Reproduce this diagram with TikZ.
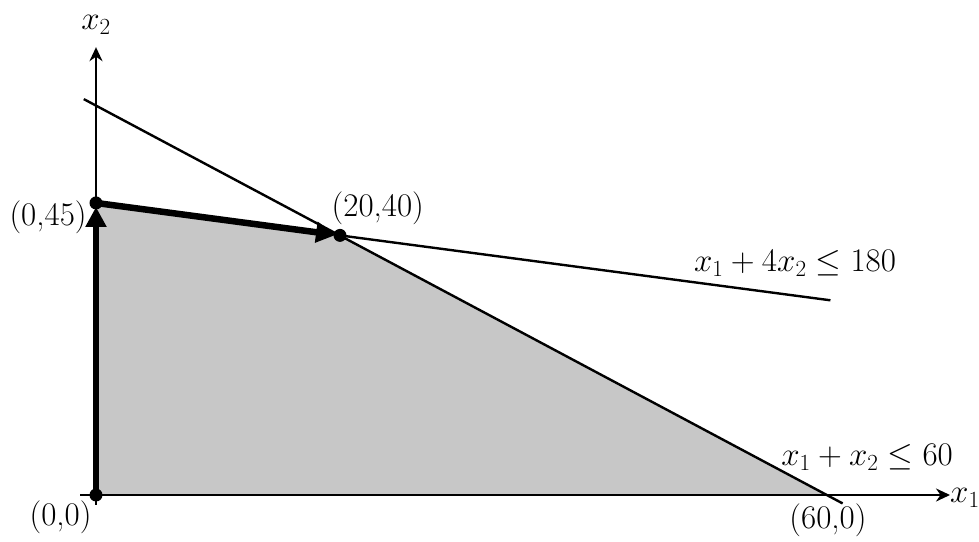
\RequirePackage{fix-cm}
\documentclass[tikz,border=0pt]{standalone}
\usetikzlibrary{arrows.meta}
\definecolor{regiongray}{RGB}{199,199,199}
\begin{document}
\begin{tikzpicture}[x=12.2pt,y=6.49pt,
  lbl/.style={font=\fontsize{33}{38}\selectfont, inner sep=0pt},
  axis/.style={line width=2.4pt, -{Stealth[length=14pt,width=13pt]}},
  cline/.style={line width=2.4pt},
  path/.style={line width=6.5pt, -{Triangle[length=20pt,width=20pt]}, shorten >=4pt},
  vdot/.style={circle, fill=black, minimum size=13pt, inner sep=0pt}]
\useasboundingbox (-7.869,-7.088) rectangle (72.377,76.271);
% feasible region
\fill[regiongray] (0,0) -- (0,45) -- (20,40) -- (60,0) -- cycle;
% coordinates
\coordinate (xs) at (-1.3,0);
\coordinate (xe) at (70.0,0);
\coordinate (ys) at (0,-1.5);
\coordinate (ye) at (0,69.0);
\coordinate (c1s) at (-1,61);
\coordinate (c1e) at (61.2,-1.3);
\coordinate (c2e) at (60.2,30);
% axes
\draw[axis] (xs) -- (xe);
\draw[axis] (ys) -- (ye);
\node[lbl, anchor=west] (x1) at ([xshift=0pt,yshift=-3pt]xe) {$x_1$};
\node[lbl] (x2) at (0,72.4) {$x_2$};
% vertices
\node[vdot] (O) at (0,0) {};
\node[vdot] (A) at (0,45) {};
\node[vdot] (B) at (20,40) {};
\coordinate (C) at (60,0);
% constraint lines
\draw[cline] (c1s) -- (c1e);
\draw[cline] (B.center) -- (c2e);
% path arrows
\draw[path] (O.center) -- (A.center);
\draw[path] (A.center) -- (B.center);
% labels
\node[lbl] (lA) at (-3.93,42.8) {(0,45)};
\node[lbl] (lB) at (23.1,44.2) {(20,40)};
\node[lbl] (lO) at (-2.9,-3.5) {(0,0)};
\node[lbl] (lC) at (60,-3.85) {(60,0)};
\node[lbl] (e2) at (57.3,35.75) {$x_1+4x_2\leq 180$};
\node[lbl] (e1) at (63.2,5.86) {$x_1+x_2\leq 60$};
\end{tikzpicture}
\end{document}
